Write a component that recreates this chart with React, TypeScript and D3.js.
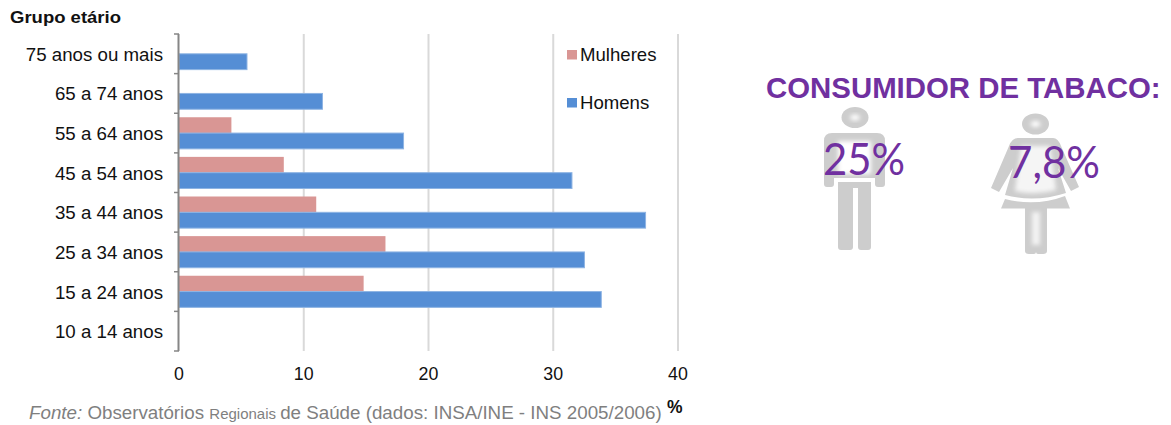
import React from "react";
import * as d3 from "d3";

const ageGroups = ["75 anos ou mais", "65 a 74 anos", "55 a 64 anos", "45 a 54 anos", "35 a 44 anos", "25 a 34 anos", "15 a 24 anos", "10 a 14 anos"];
const women = [0, 0, 4.2, 8.4, 11, 16.55, 14.8, 0];
const men = [5.45, 11.5, 18, 31.5, 37.4, 32.5, 33.85, 0];
const seriesNames = ["Mulheres", "Homens"];
const xTicks = [0, 10, 20, 30, 40];

const SANS = "'Liberation Sans', Arial, sans-serif";
const PURPLE = "#7030a0";
const GREY = "#cdcdcd";
const WOMEN_FILL = "#d99694";
const MEN_FILL = "#558ed5";

const x = d3.scaleLinear().domain([0, 40]).range([179, 678]);
const y = d3.scaleBand<string>().domain(ageGroups).range([34, 351]);
const inner = d3.scaleBand<string>().domain(seriesNames).range([0, y.step()]).paddingInner(0).paddingOuter(0.253);

// Pictogram outlines, each with a soft white core
function ManIcon() {
  return (
    <g>
      <ellipse cx={855} cy={117.5} rx={13.5} ry={10.5} fill={GREY} />
      <ellipse cx={855} cy={117.5} rx={5} ry={3} fill="#fff" filter="url(#soft)" />
      <path d="M832 133H877Q885 133 885 141V184Q885 187 882 187H878Q875 187 875 184V178H834V184Q834 187 831 187H827Q824 187 824 184V141Q824 133 832 133Z" fill={GREY} />
      <path d="M838 141H871V174H838Z" fill="#fff" filter="url(#soft)" />
      <path d="M838 182H871V247Q871 250 868 250H861Q858 250 858 247V188H853V247Q853 250 850 250H841Q838 250 838 247Z" fill={GREY} />
    </g>
  );
}

function WomanIcon() {
  return (
    <g>
      <ellipse cx={1035.5} cy={124} rx={13.5} ry={10.5} fill={GREY} />
      <ellipse cx={1035.5} cy={124} rx={5} ry={3} fill="#fff" filter="url(#soft)" />
      <path d="M1018 138H1053Q1058 138 1061 146L1079 187L1071 191L1058 168L1066 193Q1035 203 1005 195L1013 168L999 192L991 188L1009 146Q1012 138 1018 138Z" fill={GREY} />
      <path d="M1021 146H1050L1056 190Q1035 196 1015 191Z" fill="#fff" filter="url(#soft)" opacity={0.8} />
      <path d="M1005 199Q1036 207 1065 196L1070 208.500H1001Z" fill={GREY} />
      <path d="M1025 208H1047V251Q1047 254 1043 254H1038Q1036 254 1036 252Q1036 254 1034 254H1029Q1025 254 1025 251Z" fill={GREY} />
      <path d="M1032 212H1040V245H1032Z" fill="#fff" filter="url(#soft)" opacity={0.75} />
    </g>
  );
}

export default function App() {
  return (
    <svg
      width={1171}
      height={425}
      viewBox="0 0 1171 425"
      style={{ position: "absolute", left: 0, top: 0, background: "#fff" }}
      fontFamily={SANS}
    >
      <defs>
        <filter id="soft" x="-40%" y="-40%" width="180%" height="180%">
          <feGaussianBlur stdDeviation="2" />
        </filter>
      </defs>

      <text x={10} y={23} fontSize={16.500} fontWeight="bold" fill="#111" textLength={111} lengthAdjust="spacingAndGlyphs">Grupo etário</text>

      {/* Vertical gridlines */}
      {xTicks.filter((t) => t > 0).map((t) => (
        <line key={t} x1={x(t)} x2={x(t)} y1={34} y2={351} stroke="#d9d9d9" strokeWidth={2} />
      ))}

      {/* Paired bars per age group */}
      {ageGroups.map((g, i) => (
        <g key={g} transform={`translate(0,${y(g)})`}>
          {women[i] > 0 && (
            <rect x={x(0)} y={inner("Mulheres")} width={x(women[i]) - x(0)} height={inner.bandwidth()} fill={WOMEN_FILL} />
          )}
          {men[i] > 0 && (
            <rect x={x(0)} y={inner("Homens")} width={x(men[i]) - x(0)} height={inner.bandwidth()} fill={MEN_FILL} stroke="#8eb4e3" strokeWidth={1} />
          )}
        </g>
      ))}

      {/* Category axis */}
      <line x1={x(0) - 0.5} x2={x(0) - 0.5} y1={34} y2={351} stroke="#868686" strokeWidth={2} />
      {[...ageGroups.map((g) => y(g) as number), 351].map((p) => (
        <line key={p} x1={174} x2={179} y1={p} y2={p} stroke="#868686" strokeWidth={1.5} />
      ))}
      {ageGroups.map((g) => (
        <text key={g} x={163} y={(y(g) as number) + y.bandwidth() / 2 + 7} textAnchor="end" fontSize={18.700} fill="#111">{g}</text>
      ))}

      {/* Value axis labels */}
      {xTicks.map((t) => (
        <text key={t} x={x(t)} y={379.500} textAnchor="middle" fontSize={17.800} fill="#111">{t}</text>
      ))}

      {/* Legend */}
      <rect x={567} y={50} width={10} height={9.500} fill={WOMEN_FILL} />
      <text x={580} y={61} fontSize={18.600} fill="#111">{seriesNames[0]}</text>
      <rect x={567} y={98} width={10} height={9.500} fill={MEN_FILL} />
      <text x={580} y={109} fontSize={18.600} fill="#111">{seriesNames[1]}</text>

      {/* Source line */}
      <text x={29} y={419} fontSize={18.750} fill="#7f7f7f">
        <tspan fontStyle="italic">Fonte: </tspan>
        <tspan>Observatórios </tspan>
        <tspan fontSize={15}>Regionais </tspan>
        <tspan>de Saúde (dados: INSA/INE - INS 2005/2006)</tspan>
      </text>
      <text x={667} y={413} fontSize={17.500} fontWeight="bold" fill="#111">%</text>

      {/* Tobacco consumption panel */}
      <text x={766} y={98} fontSize={29.400} fontWeight="bold" fill={PURPLE}>CONSUMIDOR DE TABACO:</text>
      <ManIcon />
      <WomanIcon />
      <text x={823} y={175} fontSize={44} fontFamily="Lato, sans-serif" fill={PURPLE} textLength={82} lengthAdjust="spacingAndGlyphs">25%</text>
      <text x={1008} y={178} fontSize={44} fontFamily="Lato, sans-serif" fill={PURPLE} textLength={92} lengthAdjust="spacingAndGlyphs">7,8%</text>
    </svg>
  );
}
